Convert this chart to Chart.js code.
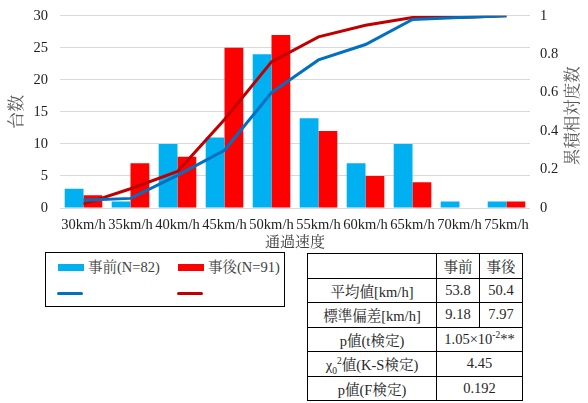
<!DOCTYPE html>
<html>
<head>
<meta charset="utf-8">
<script src="https://cdn.jsdelivr.net/npm/chart.js@4/dist/chart.umd.min.js"></script>
<style>
  html, body { margin: 0; padding: 0; background: #fff; }
  body { width: 588px; height: 403px; position: relative; overflow: hidden;
         font-family: 'Liberation Serif', 'Noto Serif CJK JP', serif; color: #222; }
  #wrap { position: absolute; left: 0; top: -5px; width: 588px; height: 257px; }
  #legend { position: absolute; left: 45px; top: 252px; width: 238px; height: 53px;
            border: 1px solid #000; box-sizing: content-box; }
  .lg { position: absolute; font-size: 14.5px; line-height: 16px; color: #404040; white-space: nowrap; }
  .sw { position: absolute; }
  #stats { position: absolute; left: 307px; top: 253px; border-collapse: collapse;
           font-size: 14.5px; color: #262626; }
  #stats td { border: 1px solid #000; height: 23.5px; padding: 0; text-align: center; }
  sup, sub { font-size: 9.5px; line-height: 0; }
</style>
</head>
<body>
<div id="wrap"><canvas id="c" width="588" height="257"></canvas></div>
<div id="legend"></div>
<table id="stats">
  <colgroup><col style="width:129px"><col style="width:43px"><col style="width:43px"></colgroup>
  <tr><td></td><td>事前</td><td>事後</td></tr>
  <tr><td>平均値[km/h]</td><td>53.8</td><td>50.4</td></tr>
  <tr><td>標準偏差[km/h]</td><td>9.18</td><td>7.97</td></tr>
  <tr><td>p値(t検定)</td><td colspan="2">1.05×10<sup>-2</sup>**</td></tr>
  <tr><td>χ<sub>0</sub><sup>2</sup>値(K-S検定)</td><td colspan="2">4.45</td></tr>
  <tr><td>p値(F検定)</td><td colspan="2">0.192</td></tr>
</table>
<script>
// Speed classes and counts of passing vehicles (before / after)
const speedLabels = ['30km/h','35km/h','40km/h','45km/h','50km/h','55km/h','60km/h','65km/h','70km/h','75km/h'];
const countBefore = [3, 1, 10, 11, 24, 14, 7, 10, 1, 1];
const countAfter  = [2, 7, 8, 25, 27, 12, 5, 4, 0, 1];
// Cumulative relative frequency
const cumBefore = [0.04, 0.05, 0.17, 0.30, 0.60, 0.77, 0.85, 0.98, 0.99, 1.00];
const cumAfter  = [0.02, 0.10, 0.19, 0.46, 0.76, 0.89, 0.95, 0.99, 0.99, 1.00];
const leftTicks = [0, 5, 10, 15, 20, 25, 30];
const rightTicks = [0, 0.2, 0.4, 0.6, 0.8, 1];

const serif = "'Liberation Serif', 'Noto Serif CJK JP', serif";
const colors = { before: '#00B0F0', after: '#FF0000', beforeLine: '#0070C0', afterLine: '#C00000' };

// Both vertical axis titles read bottom-to-top, drawn beside their scales
const sideTitles = {
  id: 'sideTitles',
  afterDraw(chart) {
    const { ctx, chartArea, scales } = chart;
    const cy = (chartArea.top + chartArea.bottom) / 2;
    const put = (scale, x, dy) => {
      const t = scale.options.title;
      ctx.save();
      ctx.font = `${t.font.size}px ${t.font.family}`;
      ctx.fillStyle = t.color;
      ctx.textAlign = 'center';
      ctx.textBaseline = 'middle';
      ctx.translate(x, cy + dy);
      ctx.rotate(-Math.PI / 2);
      ctx.fillText(t.text, 0, 0);
      ctx.restore();
    };
    put(scales.y, scales.y.left + 18, 0);
    put(scales.y2, scales.y2.right - 14, 4);
  }
};

const chart = new Chart(document.getElementById('c'), {
  data: {
    labels: speedLabels,
    datasets: [
      { type: 'line', label: '', data: cumBefore, yAxisID: 'y2', borderColor: colors.beforeLine,
        borderWidth: 3, pointRadius: 0, tension: 0, order: 0 },
      { type: 'line', label: '', data: cumAfter, yAxisID: 'y2', borderColor: colors.afterLine,
        borderWidth: 3, pointRadius: 0, tension: 0, order: 0 },
      { type: 'bar', label: '事前(N=82)', data: countBefore, yAxisID: 'y', backgroundColor: colors.before,
        categoryPercentage: 0.8, barPercentage: 1.0, order: 1 },
      { type: 'bar', label: '事後(N=91)', data: countAfter, yAxisID: 'y', backgroundColor: colors.after,
        categoryPercentage: 0.8, barPercentage: 1.0, order: 1 }
    ]
  },
  options: {
    responsive: false,
    animation: false,
    layout: { padding: { top: 10, left: 0, right: 0, bottom: 0 } },
    plugins: { legend: { display: false }, tooltip: { enabled: false } },
    scales: {
      x: {
        grid: { display: false, drawTicks: false },
        border: { display: false },
        ticks: { color: '#222', font: { family: serif, size: 14.5 }, padding: 8, maxRotation: 0, autoSkip: false },
        title: { display: true, text: '通過速度', color: '#404040', font: { family: serif, size: 15 }, padding: { top: 0, bottom: 0 } },
        afterFit: s => { s.height = 44; }
      },
      y: {
        position: 'left', min: 0, max: 30,
        afterBuildTicks: s => { s.ticks = leftTicks.map(v => ({ value: v })); },
        grid: { color: '#D9D9D9', lineWidth: 1, drawTicks: false },
        border: { display: false },
        ticks: { color: '#222', font: { family: serif, size: 14.5 }, padding: 12 },
        title: { display: false, text: '台数', color: '#595959', font: { family: serif, size: 17 } },
        afterFit: s => { s.width = 60; }
      },
      y2: {
        position: 'right', min: 0, max: 1,
        afterBuildTicks: s => { s.ticks = rightTicks.map(v => ({ value: v })); },
        grid: { display: false, drawTicks: false },
        border: { display: false },
        ticks: { color: '#222', font: { family: serif, size: 14.5 }, padding: 10, callback: v => String(v) },
        title: { display: false, text: '累積相対度数', color: '#595959', font: { family: serif, size: 16.5 } },
        afterFit: s => { s.width = 58; }
      }
    }
  },
  plugins: [sideTitles]
});

// Legend: bar series on the first row, cumulative lines below
const lg = document.getElementById('legend');
const ds = chart.data.datasets;
const items = [
  { d: ds[2], x: 12, y: 14, bar: true },
  { d: ds[3], x: 132, y: 14, bar: true },
  { d: ds[0], x: 11, y: 40, bar: false },
  { d: ds[1], x: 131, y: 40, bar: false }
];
items.forEach(it => {
  const sw = document.createElement('div');
  sw.className = 'sw';
  const h = it.bar ? 7 : 3;
  sw.style.cssText = `left:${it.x}px;top:${it.y - h / 2}px;width:26px;height:${h}px;background:${it.bar ? it.d.backgroundColor : it.d.borderColor};border-radius:${it.bar ? 0 : 2}px`;
  lg.appendChild(sw);
  if (it.d.label) {
    const t = document.createElement('div');
    t.className = 'lg';
    t.style.left = (it.x + 30) + 'px';
    t.style.top = (it.y - 8) + 'px';
    t.textContent = it.d.label;
    lg.appendChild(t);
  }
});
</script>
</body>
</html>
